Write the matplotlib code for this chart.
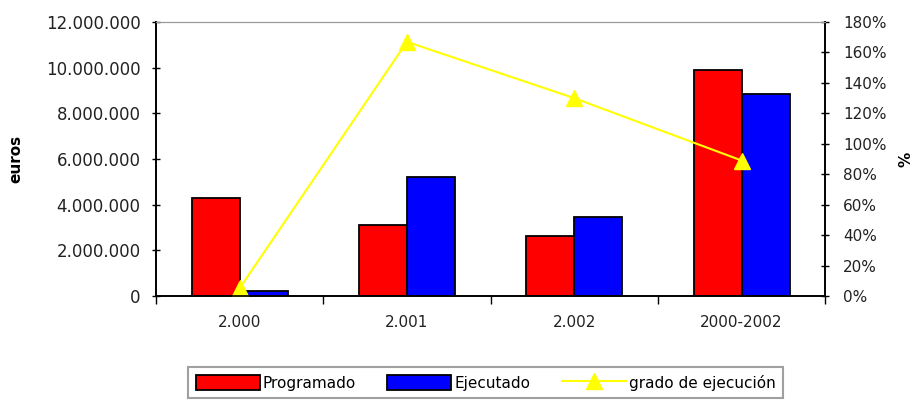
import matplotlib
matplotlib.use("Agg")
import matplotlib.pyplot as plt
import numpy as np
from matplotlib.ticker import FuncFormatter, MultipleLocator, FixedLocator

# values
categories = ["2.000", "2.001", "2.002", "2000-2002"]
programado = [4290000, 3110000, 2630000, 9900000]
ejecutado = [220000, 5210000, 3460000, 8850000]
grado = [0.05, 1.67, 1.30, 0.89]

plt.rcParams["font.family"] = ["DejaVu Sans"]
plt.rcParams["legend.handleheight"] = 1.1

fig = plt.figure(figsize=(9.17, 4.01), dpi=100)
ax = fig.add_axes([0.170, 0.262, 0.730, 0.683])
ax2 = ax.twinx()

x = np.arange(len(categories))
w = 0.287
ax.bar(x - w / 2, programado, w, color="#ff0000", edgecolor="black", linewidth=1.3,
       label="Programado", zorder=2)
ax.bar(x + w / 2, ejecutado, w, color="#0000ff", edgecolor="black", linewidth=1.3,
       label="Ejecutado", zorder=2)
ax2.plot(x, grado, color="#ffff00", linewidth=1.5, marker="^", markersize=11,
         markerfacecolor="#ffff00", markeredgecolor="#ffff00", label="grado de ejecución")

ax.set_xlim(-0.5, len(categories) - 0.5)
ax.set_ylim(0, 12000000)
ax2.set_ylim(0, 1.8)

ax.yaxis.set_major_locator(MultipleLocator(2000000))
ax.yaxis.set_major_formatter(FuncFormatter(lambda v, p: f"{int(v):,}".replace(",", ".")))
ax2.yaxis.set_major_locator(MultipleLocator(0.2))
ax2.yaxis.set_major_formatter(FuncFormatter(lambda v, p: f"{v * 100:.0f}%"))

ax.set_xticks(x)
ax.set_xticklabels(categories)
ax.xaxis.set_minor_locator(FixedLocator(np.arange(len(categories) + 1) - 0.5))
ax.tick_params(axis="x", which="major", length=0, pad=14, labelsize=11, colors="#222222")
ax.tick_params(axis="x", which="minor", length=6, direction="out", width=1)
ax.tick_params(axis="y", length=6, direction="inout", width=1, pad=8, labelsize=12,
               labelcolor="#222222")
ax2.tick_params(axis="y", length=6, direction="inout", width=1, pad=10, labelsize=11,
                labelcolor="#222222")

for a in (ax, ax2):
    a.spines["top"].set_color("#999999")
    a.spines["left"].set_linewidth(1.2)
    a.spines["right"].set_linewidth(1.2)
    a.spines["bottom"].set_linewidth(1.2)

ax.set_ylabel("euros", fontsize=11, fontweight="bold", labelpad=16)
ax2.set_ylabel("%", fontsize=11, fontweight="bold", labelpad=8)

h1, l1 = ax.get_legend_handles_labels()
h2, l2 = ax2.get_legend_handles_labels()
leg = fig.legend(h1 + h2, l1 + l2, loc="upper left", bbox_to_anchor=(0.205, -0.05, 0.649, 0.135),
                 mode="expand", ncol=3, frameon=True, fancybox=False, fontsize=11,
                 handlelength=4.2, handletextpad=0.2, columnspacing=0.6, borderpad=0.5,
                 borderaxespad=0)
leg.get_frame().set_edgecolor("#888888")
leg.get_frame().set_linewidth(1.5)

fig.savefig("out.png", dpi=100)
